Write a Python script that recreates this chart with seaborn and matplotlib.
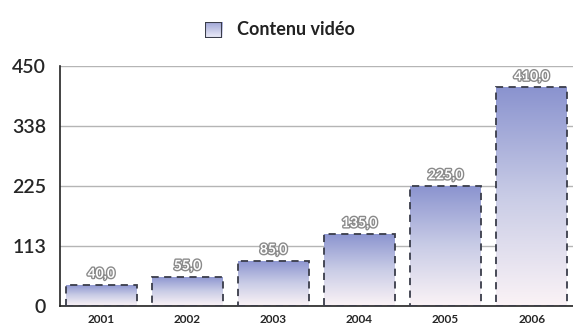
import numpy as np
import pandas as pd
import matplotlib
matplotlib.use("Agg")
import matplotlib.pyplot as plt
import matplotlib.patheffects as pe
from matplotlib.colors import LinearSegmentedColormap
from matplotlib.patches import Rectangle
import seaborn as sns

years = ["2001", "2002", "2003", "2004", "2005", "2006"]
video = [40.0, 55.0, 85.0, 135.0, 225.0, 410.0]
yticks = [0, 113, 225, 338, 450]
series_name = "Contenu vidéo"

sns.set_style("white")
plt.rcParams['font.family'] = ['Lato', 'DejaVu Sans']

df = pd.DataFrame({"year": years, "value": video})

fig = plt.figure(figsize=(5.73, 3.29), dpi=100)
ax = fig.add_axes([0.1047, 0.0699, 0.8953, 0.7295])

sns.barplot(data=df, x="year", y="value", ax=ax, width=0.82,
            facecolor="none", edgecolor="#3a3d4a", linewidth=1.3,
            linestyle=(0, (4, 3)), zorder=3)

# gradient fill, dark lavender at top fading to near white
grad_cmap = LinearSegmentedColormap.from_list("grad", ["#fbf3f6", "#c9cce6", "#8a93cf"])
grad = np.linspace(0, 1, 256).reshape(-1, 1)
for bar in ax.patches:
    x0, y0 = bar.get_x(), bar.get_y()
    w, h = bar.get_width(), bar.get_height()
    im = ax.imshow(grad, cmap=grad_cmap, origin="lower", aspect="auto",
                   extent=[x0, x0 + w, y0, y0 + h], zorder=2)
    im.set_clip_path(bar)
    ax.text(x0 + w / 2, y0 + h + 9, f"{h:.1f}".replace(".", ","),
            ha="center", va="bottom", fontsize=10, color="white",
            fontweight="bold", zorder=4,
            path_effects=[pe.withStroke(linewidth=2, foreground="#8a8a8a")])

ax.set_xlim(-0.48, 5.48)
ax.set_ylim(0, 450)
ax.set_yticks(yticks)
ax.set_yticklabels([str(t) for t in yticks], fontsize=14, fontweight="semibold")
ax.tick_params(axis="x", labelsize=8.5, pad=6, length=0)
for lbl in ax.get_xticklabels():
    lbl.set_fontweight("bold")
ax.tick_params(axis="y", pad=10, length=0)
ax.set_xlabel("")
ax.set_ylabel("")
ax.yaxis.grid(True, color="#b5b5b5", linewidth=1)
ax.set_axisbelow(True)
for s in ["top", "right"]:
    ax.spines[s].set_visible(False)
ax.spines["left"].set_color("#222222")
ax.spines["bottom"].set_color("#222222")
ax.spines["left"].set_linewidth(1.2)
ax.spines["bottom"].set_linewidth(1.2)

# legend
lax = fig.add_axes([0.358, 0.8845, 0.0297, 0.0486])
lax.imshow(grad, cmap=LinearSegmentedColormap.from_list("lg", ["#eeeef8", "#a0a6d8"]),
           origin="lower", aspect="auto", extent=[0, 1, 0, 1])
lax.add_patch(Rectangle((0, 0), 1, 1, fill=False, edgecolor="#3a3d4a", linewidth=1.5))
lax.set_axis_off()
fig.text(0.4136, 0.909, series_name, fontsize=13, fontweight="bold",
         color="#222222", va="center", ha="left")

fig.savefig("out.png", dpi=100)
